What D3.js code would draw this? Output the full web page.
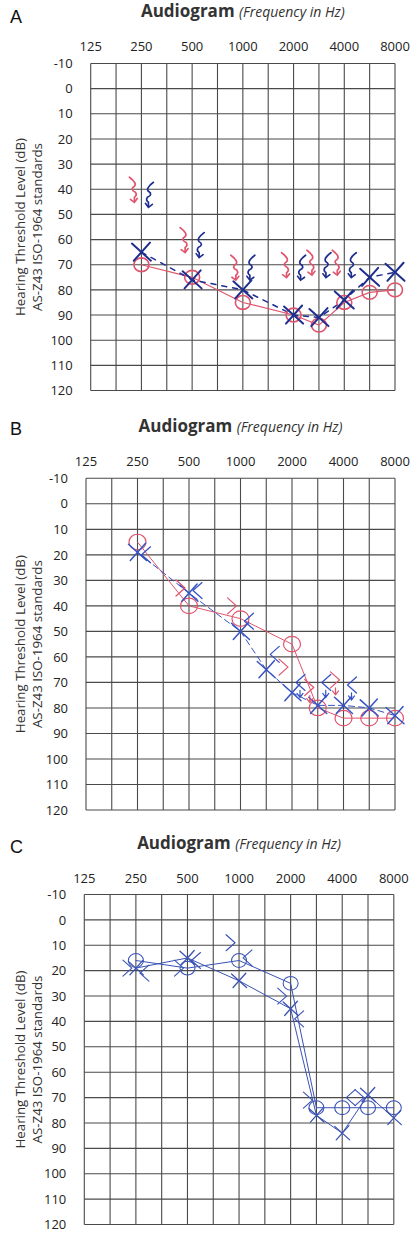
<!DOCTYPE html>
<html><head><meta charset="utf-8">
<script src="https://cdn.jsdelivr.net/npm/d3@7"></script>
<style>html,body{margin:0;padding:0;background:#fff;} svg{display:block;}</style>
</head><body>
<svg id="chart" width="420" height="1235"></svg>
<script>
// ---- shared axes ----
const gridFreqs = ["125","180","250","375","500","750","1000","1500","2000","3000","4000","6000","8000"];
const freqTickLabels = ["125","250","500","1000","2000","4000","8000"];
const dbTicks = [-10,0,10,20,30,40,50,60,70,80,90,100,110,120];

// ---- Panel A ----
const aAirFreqs = ["250","500","1000","2000","3000","4000","6000","8000"];
const aRightAir = [70,75,85,90,94,85,81,80];   // red O
const aLeftAir  = [65,76,80,90,91,84,75,73];   // blue X
const aBoneFreqs = ["250","500","1000","2000","3000","4000"];
const aRightBone = [40,60,71,70,69,69];        // red <
const aLeftBone  = [42,62,71,71,70,70];        // blue >

// ---- Panel B ----
const bRightAirFreqs = ["250","500","1000","2000","3000","4000","6000","8000"];
const bRightAir = [15,40,45,55,80,84,84,84];
const bLeftAirFreqs = ["250","500","1000","1500","2000","3000","4000","6000","8000"];
const bLeftAir = [19,35,50,65,74,79,79,80,83];
const bRightBoneFreqs = ["500","1000","2000","3000","4000"];
const bRightBone = [33,40,64,72,69];
const bLeftBoneFreqs = ["250","500","1000","1500","2000","3000","4000"];
const bLeftBone = [20,34,46,59,70,70,71];

// ---- Panel C ----
const cAirFreqs = ["250","500","1000","2000","3000","4000","6000","8000"];
const cCircleAir = [16,19,16,25,74,74,74,74];
const cCrossAir  = [19,15,24,35,77,84,69,78];
const cLowBoneFreqs = ["250","500","1000","2000","3000","6000"];
const cLowBone = [19,19,9,30,71,70];
const cHighBoneFreqs = ["250","500","1000","2000","4000"];
const cHighBone = [21,16,15,39,70];

const FONT = "'Open Sans','Noto Sans',sans-serif";
const RED = "#e0556e";

const panels = [
  {letter:"A", left:90.7, right:395, top:63.5, bottom:390.5, letterY:22.7, titleY:17.3, freqY:50.7,
   blue:"#1f2d8f", sw:2, r:7.5, xs:9.5, arrowMin:0, squiggle:true,
   lines:[{f:aAirFreqs,v:aRightAir,c:"red",dash:null,w:1.2},{f:aAirFreqs,v:aLeftAir,c:"blue",dash:"5,6",w:1.5}],
   circles:[{f:aAirFreqs,v:aRightAir,c:"red"}],
   crosses:[{f:aAirFreqs,v:aLeftAir,c:"blue"}],
   bonesL:[{f:aBoneFreqs,v:aRightBone,c:"red"}],
   bonesR:[{f:aBoneFreqs,v:aLeftBone,c:"blue"}]},
  {letter:"B", left:86, right:395, top:478.3, bottom:810, letterY:435, titleY:432.3, freqY:465.7,
   blue:"#3552c4", sw:1.5, r:8.5, xs:9, arrowMin:69, squiggle:false,
   lines:[{f:bRightAirFreqs,v:bRightAir,c:"red",dash:null,w:1},{f:bLeftAirFreqs,v:bLeftAir,c:"blue",dash:"6,4",w:1}],
   circles:[{f:bRightAirFreqs,v:bRightAir,c:"red"}],
   crosses:[{f:bLeftAirFreqs,v:bLeftAir,c:"blue"}],
   bonesL:[{f:bRightBoneFreqs,v:bRightBone,c:"red"}],
   bonesR:[{f:bLeftBoneFreqs,v:bLeftBone,c:"blue"}]},
  {letter:"C", left:84.3, right:393.8, top:894.5, bottom:1224.5, letterY:853, titleY:849, freqY:883,
   blue:"#3a52b4", sw:1.3, r:7.5, xs:7.5, arrowMin:999, squiggle:false,
   lines:[{f:cAirFreqs,v:cCircleAir,c:"blue",dash:null,w:1},{f:cAirFreqs,v:cCrossAir,c:"blue",dash:null,w:1}],
   circles:[{f:cAirFreqs,v:cCircleAir,c:"blue"}],
   crosses:[{f:cAirFreqs,v:cCrossAir,c:"blue"}],
   bonesL:[{f:cLowBoneFreqs,v:cLowBone,c:"blue"}],
   bonesR:[{f:cHighBoneFreqs,v:cHighBone,c:"blue"}]}
];

const svg = d3.select("#chart");

panels.forEach(p => {
  const g = svg.append("g");
  const x = d3.scalePoint().domain(gridFreqs).range([p.left, p.right]);
  const y = d3.scaleLinear().domain([-10,120]).range([p.top, p.bottom]);
  const col = c => c === "red" ? RED : p.blue;

  // grid
  g.selectAll(".vl").data(gridFreqs).enter().append("line")
    .attr("x1", d => x(d)).attr("x2", d => x(d)).attr("y1", p.top).attr("y2", p.bottom)
    .attr("stroke", "#4a4a4a").attr("stroke-width", 1.1);
  g.selectAll(".hl").data(dbTicks).enter().append("line")
    .attr("x1", p.left).attr("x2", p.right).attr("y1", d => y(d)).attr("y2", d => y(d))
    .attr("stroke", "#4a4a4a").attr("stroke-width", 1.1);

  // frequency labels
  g.selectAll(".fl").data(freqTickLabels).enter().append("text")
    .attr("x", d => x(d)).attr("y", p.freqY).attr("text-anchor", "middle")
    .attr("font-family", FONT).attr("font-size", 13).attr("fill", "#222").text(d => d);
  // dB labels
  g.selectAll(".dl").data(dbTicks).enter().append("text")
    .attr("x", p.left - 18).attr("y", d => y(d)).attr("dy", "0.36em").attr("text-anchor", "end")
    .attr("font-family", FONT).attr("font-size", 13).attr("fill", "#222").text(d => d);

  // panel letter
  g.append("text").attr("x", 10).attr("y", p.letterY).attr("font-family", "'Liberation Sans',Arial,sans-serif")
    .attr("font-size", 18).attr("fill", "#111").text(p.letter);
  // title
  const t = g.append("text").attr("x", (p.left + p.right) / 2).attr("y", p.titleY)
    .attr("text-anchor", "middle").attr("font-family", FONT).attr("fill", "#333");
  t.append("tspan").attr("font-weight", "bold").attr("font-size", 17).text("Audiogram ");
  t.append("tspan").attr("font-style", "italic").attr("font-size", 14).text("(Frequency in Hz)");

  // y label
  const cy = (p.top + p.bottom) / 2;
  g.append("text").attr("transform", `translate(25,${cy}) rotate(-90)`).attr("text-anchor", "middle")
    .attr("font-family", FONT).attr("font-size", 13.3).attr("fill", "#333").text("Hearing Threshold Level (dB)");
  g.append("text").attr("transform", `translate(42,${cy}) rotate(-90)`).attr("text-anchor", "middle")
    .attr("font-family", FONT).attr("font-size", 13.3).attr("fill", "#333").text("AS-Z43 ISO-1964 standards");

  // connecting lines
  p.lines.forEach(s => {
    const pts = s.f.map((f, i) => [x(f), y(s.v[i])]);
    g.append("path").attr("d", d3.line().curve(d3.curveLinear)(pts))
      .attr("fill", "none").attr("stroke", col(s.c)).attr("stroke-width", s.w)
      .attr("stroke-dasharray", s.dash).attr("stroke-linecap", "round");
  });

  // circles (O)
  p.circles.forEach(s => {
    g.selectAll(null).data(s.f.map((f, i) => ({f, v: s.v[i]}))).enter().append("ellipse")
      .attr("cx", d => x(d.f)).attr("cy", d => y(d.v)).attr("rx", p.r).attr("ry", p.r * 0.92)
      .attr("fill", "none").attr("stroke", col(s.c)).attr("stroke-width", p.sw * 0.8);
  });

  // crosses (X)
  p.crosses.forEach(s => {
    const k = p.xs;
    g.selectAll(null).data(s.f.map((f, i) => ({f, v: s.v[i]}))).enter().append("path")
      .attr("transform", d => `translate(${x(d.f)},${y(d.v)})`)
      .attr("d", `M${-k},${-k * 0.9} L${k},${k * 0.9} M${k * 0.9},${-k} L${-k * 0.8},${k * 0.9}`)
      .attr("fill", "none").attr("stroke", col(s.c)).attr("stroke-width", p.sw).attr("stroke-linecap", "round");
  });

  // bone conduction brackets
  const boneShape = p.squiggle
    ? "M4,-12 Q-4,-6 -1,-3 Q4,0 -2,3 Q-4,6 -1,8 L-1,12"
    : "M5,-8 L-4,0 L5,8";
  const arrowShape = p.squiggle ? "M-4,9 L-1,13 L3,10" : "M-3,11 L0,15 L3,11 M0,8 L0,15";
  function drawBones(list, side) {
    list.forEach(s => {
      const data = s.f.map((f, i) => ({f, v: s.v[i]}));
      const grp = g.selectAll(null).data(data).enter().append("g")
        .attr("transform", d => `translate(${x(d.f) + side * 8},${y(d.v)}) scale(${side},1)`);
      grp.append("path").attr("d", boneShape).attr("fill", "none").attr("stroke", col(s.c))
        .attr("stroke-width", p.sw * 0.85).attr("stroke-linejoin", "round").attr("stroke-linecap", "round");
      grp.filter(d => d.v >= p.arrowMin).append("path").attr("d", arrowShape).attr("fill", "none")
        .attr("stroke", col(s.c)).attr("stroke-width", p.sw * 0.8).attr("stroke-linecap", "round");
    });
  }
  drawBones(p.bonesL, -1);
  drawBones(p.bonesR, 1);
});
</script>
</body></html>
